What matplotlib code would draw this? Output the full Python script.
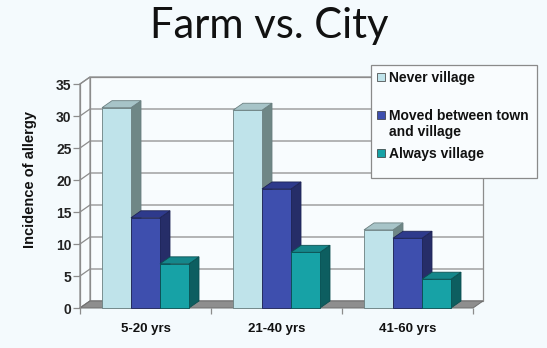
import matplotlib
matplotlib.use("Agg")
import matplotlib.pyplot as plt
from matplotlib.patches import Rectangle, Polygon

# ---- data ----
categories = ["5-20 yrs", "21-40 yrs", "41-60 yrs"]
series_names = ["Never village", "Moved between town\nand village", "Always village"]
never_village = [31.3, 30.9, 12.2]
moved_between = [14.1, 18.6, 10.9]
always_village = [6.9, 8.7, 4.5]
y_ticks = [0, 5, 10, 15, 20, 25, 30, 35]

# ---- styles ----
BG = "#f4fafd"
front_cols = ["#bfe3ea", "#3e4fae", "#17a2a6"]
top_cols = ["#a7c4c8", "#2e3a8c", "#15878b"]
side_cols = ["#6f8786", "#262d68", "#0d5e60"]
edge_cols = ["#6a7f80", "#1e2455", "#0b4f51"]
GRID = "#8c8c8c"

W, H = 547, 348
fig = plt.figure(figsize=(W / 100, H / 100), dpi=100, facecolor=BG)

ax_left, ax_right = 80, 473
ax_top, ax_bot = 84, 308
ax = fig.add_axes([ax_left / W, (H - ax_bot) / H, (ax_right - ax_left) / W, (ax_bot - ax_top) / H])
ax.set_facecolor("none")
ax.set_xlim(-0.5, 2.5)
ax.set_ylim(0, 35)

# depth offsets in data units
px_x = (ax_right - ax_left) / 3.0
px_y = (ax_bot - ax_top) / 35.0
DX = 10 / px_x
DY = 7 / px_y
x0, x1 = -0.5, 2.5
ymax = 35

# back wall
ax.add_patch(Rectangle((x0 + DX, DY), (x1 - x0), ymax, facecolor="#f8fcfe",
                       edgecolor=GRID, lw=0.9, clip_on=False, zorder=0))
# left side wall
ax.add_patch(Polygon([(x0, 0), (x0 + DX, DY), (x0 + DX, ymax + DY), (x0, ymax)],
                     closed=True, facecolor="#f8fcfe", edgecolor=GRID, lw=0.9,
                     clip_on=False, zorder=0))
# gridlines
for t in y_ticks:
    ax.plot([x0, x0 + DX, x1 + DX], [t, t + DY, t + DY], color=GRID, lw=0.9,
            clip_on=False, zorder=1)
# floor
ax.add_patch(Polygon([(x0, 0), (x1, 0), (x1 + DX, DY), (x0 + DX, DY)], closed=True,
                     facecolor="#8e8e8e", edgecolor="#6e6e6e", lw=0.7,
                     clip_on=False, zorder=2))

# bars
bw = 29 / px_x
series = [never_village, moved_between, always_village]
z = 3
for gi in range(len(categories)):
    for si, vals in enumerate(series):
        v = vals[gi]
        xs = gi + (si - 1) * bw - bw / 2
        fc, tc, sc, ec = front_cols[si], top_cols[si], side_cols[si], edge_cols[si]
        ax.add_patch(Polygon([(xs + bw, 0), (xs + bw + DX, DY), (xs + bw + DX, v + DY), (xs + bw, v)],
                             closed=True, facecolor=sc, edgecolor=ec, lw=0.6, clip_on=False, zorder=z))
        ax.add_patch(Polygon([(xs, v), (xs + bw, v), (xs + bw + DX, v + DY), (xs + DX, v + DY)],
                             closed=True, facecolor=tc, edgecolor=ec, lw=0.6, clip_on=False, zorder=z))
        ax.add_patch(Rectangle((xs, 0), bw, v, facecolor=fc, edgecolor=ec, lw=0.6,
                               clip_on=False, zorder=z + 0.5))
        z += 1

# axes / ticks
for s in ["top", "right", "bottom"]:
    ax.spines[s].set_visible(False)
ax.spines["left"].set_color(GRID)
ax.spines["left"].set_linewidth(0.9)
ax.spines["left"].set_zorder(2)
ax.set_yticks(y_ticks)
ax.set_yticklabels([str(t) for t in y_ticks], fontsize=10, fontweight="bold",
                   family="Liberation Sans", color="#222222")
ax.tick_params(axis="y", direction="out", length=5, width=0.9, color=GRID, pad=1)
ax.set_xticks([-0.5, 0.5, 1.5, 2.5])
ax.set_xticklabels([])
ax.set_xticks([0, 1, 2], minor=True)
ax.set_xticklabels(categories, minor=True, fontsize=9.5, fontweight="bold",
                   family="Liberation Sans", color="#111111")
ax.tick_params(axis="x", which="major", direction="out", length=4, width=0.9, color=GRID)
ax.tick_params(axis="x", which="minor", length=0, pad=11)

fig.text(30 / W, 1 - 180 / H, "Incidence of allergy", rotation=90, ha="center", va="center",
         fontsize=10.5, fontweight="bold", family="Liberation Sans", color="#111111")

fig.text(269 / W, 1 - 26 / H, "Farm vs. City", ha="center", va="center",
         fontsize=30, family="Lato", color="#111111")

# legend (manual)
lx0, lx1, ly0, ly1 = 371, 537, 65, 178
fig.patches.append(Rectangle((lx0 / W, 1 - ly1 / H), (lx1 - lx0) / W, (ly1 - ly0) / H,
                             transform=fig.transFigure, facecolor="#f9fcfe",
                             edgecolor="#8a8a8a", lw=0.9, zorder=20))
entry_y = [77, 115, 153]
for si, name in enumerate(series_names):
    yy = entry_y[si]
    fig.patches.append(Rectangle((377 / W, 1 - (yy + 4) / H), 8 / W, 8 / H,
                                 transform=fig.transFigure, facecolor=front_cols[si],
                                 edgecolor="#333333", lw=0.5, zorder=21))
    fig.text(389 / W, 1 - (yy - 6) / H, name, ha="left", va="top", fontsize=10,
             fontweight="bold", family="Liberation Sans", color="#111111",
             linespacing=1.15, zorder=22)

fig.savefig("out.png", dpi=100, facecolor=BG)
